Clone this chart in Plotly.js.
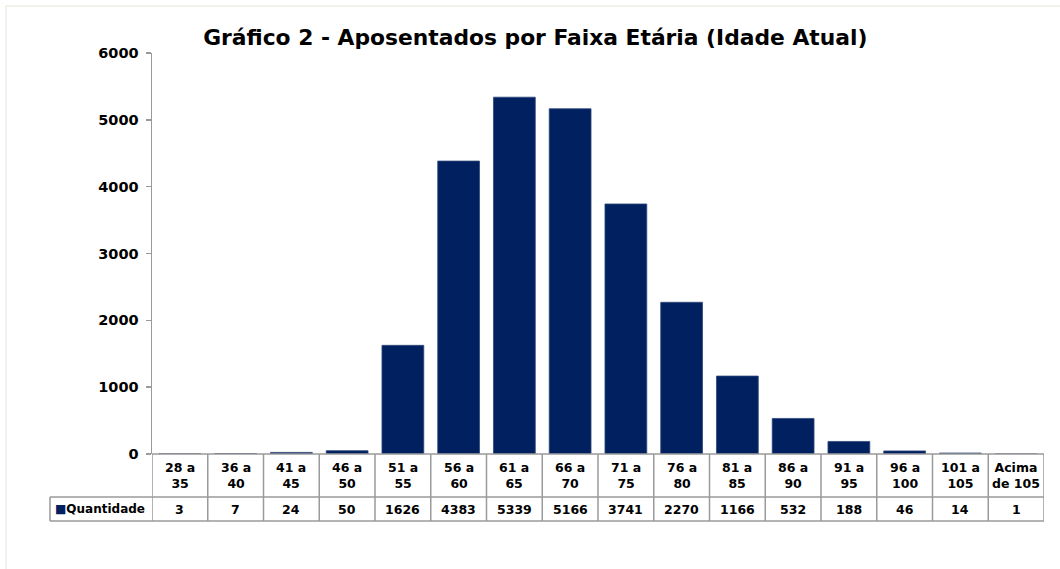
<!DOCTYPE html>
<html><head><meta charset="utf-8">
<script src="https://cdn.plot.ly/plotly-3.0.1.min.js"></script>
<style>html,body{margin:0;padding:0;background:#fff}</style>
</head><body><div id="chart" style="width:1060px;height:569px"></div>
<script>
const categories = ["28 a 35","36 a 40","41 a 45","46 a 50","51 a 55","56 a 60","61 a 65","66 a 70","71 a 75","76 a 80","81 a 85","86 a 90","91 a 95","96 a 100","101 a 105","Acima de 105"];
const categoryLabels = ["28 a<br>35","36 a<br>40","41 a<br>45","46 a<br>50","51 a<br>55","56 a<br>60","61 a<br>65","66 a<br>70","71 a<br>75","76 a<br>80","81 a<br>85","86 a<br>90","91 a<br>95","96 a<br>100","101 a<br>105","Acima<br>de 105"];
const quantidade = [3,7,24,50,1626,4383,5339,5166,3741,2270,1166,532,188,46,14,1];
const seriesName = "Quantidade";
const yTicks = [0,1000,2000,3000,4000,5000,6000];
const titleText = "Gráfico 2 - Aposentados por Faixa Etária (Idade Atual)";

const FONT = "DejaVu Sans";
const NAVY = "#002060";
const GRID = "#9a9a9a";
const plotH = 401, plotW = 892;
const row1 = -43 / plotH, row2 = -67 / plotH;
const legLeft = -102 / plotW;

const shapes = [];
const annotations = [];
const n = categories.length;
// horizontal table lines
shapes.push({type:'line', xref:'x', yref:'paper', x0:-0.5, x1:n-0.5, y0:0, y1:0, line:{color:GRID,width:1.5}});
shapes.push({type:'line', xref:'paper', yref:'paper', x0:legLeft, x1:1, y0:row1, y1:row1, line:{color:GRID,width:1.5}});
shapes.push({type:'line', xref:'paper', yref:'paper', x0:legLeft, x1:1, y0:row2, y1:row2, line:{color:GRID,width:1.5}});
shapes.push({type:'line', xref:'paper', yref:'paper', x0:legLeft, x1:legLeft, y0:row1, y1:row2, line:{color:GRID,width:1.5}});
for (let i = 0; i <= n; i++) {
  shapes.push({type:'line', xref:'x', yref:'paper', x0:i-0.5, x1:i-0.5, y0:0, y1:row2, line:{color:GRID,width:1.5}});
}
// outer chart border
shapes.push({type:'rect', xref:'paper', yref:'paper', x0:-146/plotW, x1:1.2, y0:-0.5, y1:47/plotH + 1, line:{color:'#e6e2d6',width:1}, layer:'below'});

categories.forEach((c, i) => {
  annotations.push({xref:'x', yref:'paper', x:c, y:row1/2, text:categoryLabels[i], showarrow:false,
    font:{family:FONT, size:12.5, weight:'bold', color:'#000'}, yanchor:'middle', xanchor:'center'});
  annotations.push({xref:'x', yref:'paper', x:c, y:(row1+row2)/2, text:String(quantidade[i]), showarrow:false,
    font:{family:FONT, size:12.5, weight:'bold', color:'#000'}, yanchor:'middle', xanchor:'center'});
});
annotations.push({xref:'paper', yref:'paper', x:legLeft + 3/plotW, y:(row1+row2)/2, xanchor:'left', yanchor:'middle', showarrow:false,
  text:'<span style="color:'+NAVY+'">■</span>' + seriesName, font:{family:FONT, size:12, weight:'bold', color:'#000'}});

const trace = {type:'bar', x:categories, y:quantidade, name:seriesName,
  marker:{color:NAVY, line:{color:'#2f477a', width:0.8}}, hoverinfo:'x+y'};

const layout = {
  width:1060, height:569,
  margin:{l:152, r:16, t:53, b:115},
  paper_bgcolor:'#fff', plot_bgcolor:'#fff',
  title:{text:titleText, font:{family:FONT, size:21.8, weight:'bold', color:'#000'}, x:0.505, xanchor:'center', y:0.935, yanchor:'middle'},
  showlegend:false,
  bargap:0.25,
  xaxis:{type:'category', range:[-0.5, n-0.5], showticklabels:false, showline:false, ticks:'', showgrid:false, zeroline:false, fixedrange:true},
  yaxis:{range:[0,6000], tickvals:yTicks, ticks:'outside', ticklen:5, tickcolor:GRID, tickwidth:1.5,
    showline:true, linecolor:GRID, linewidth:1.5, showgrid:false, zeroline:false,
    tickfont:{family:FONT, size:14.5, weight:'bold', color:'#000'}, ticklabelstandoff:4},
  shapes, annotations
};
Plotly.newPlot('chart', [trace], layout, {displayModeBar:false, staticPlot:true});
</script></body></html>
